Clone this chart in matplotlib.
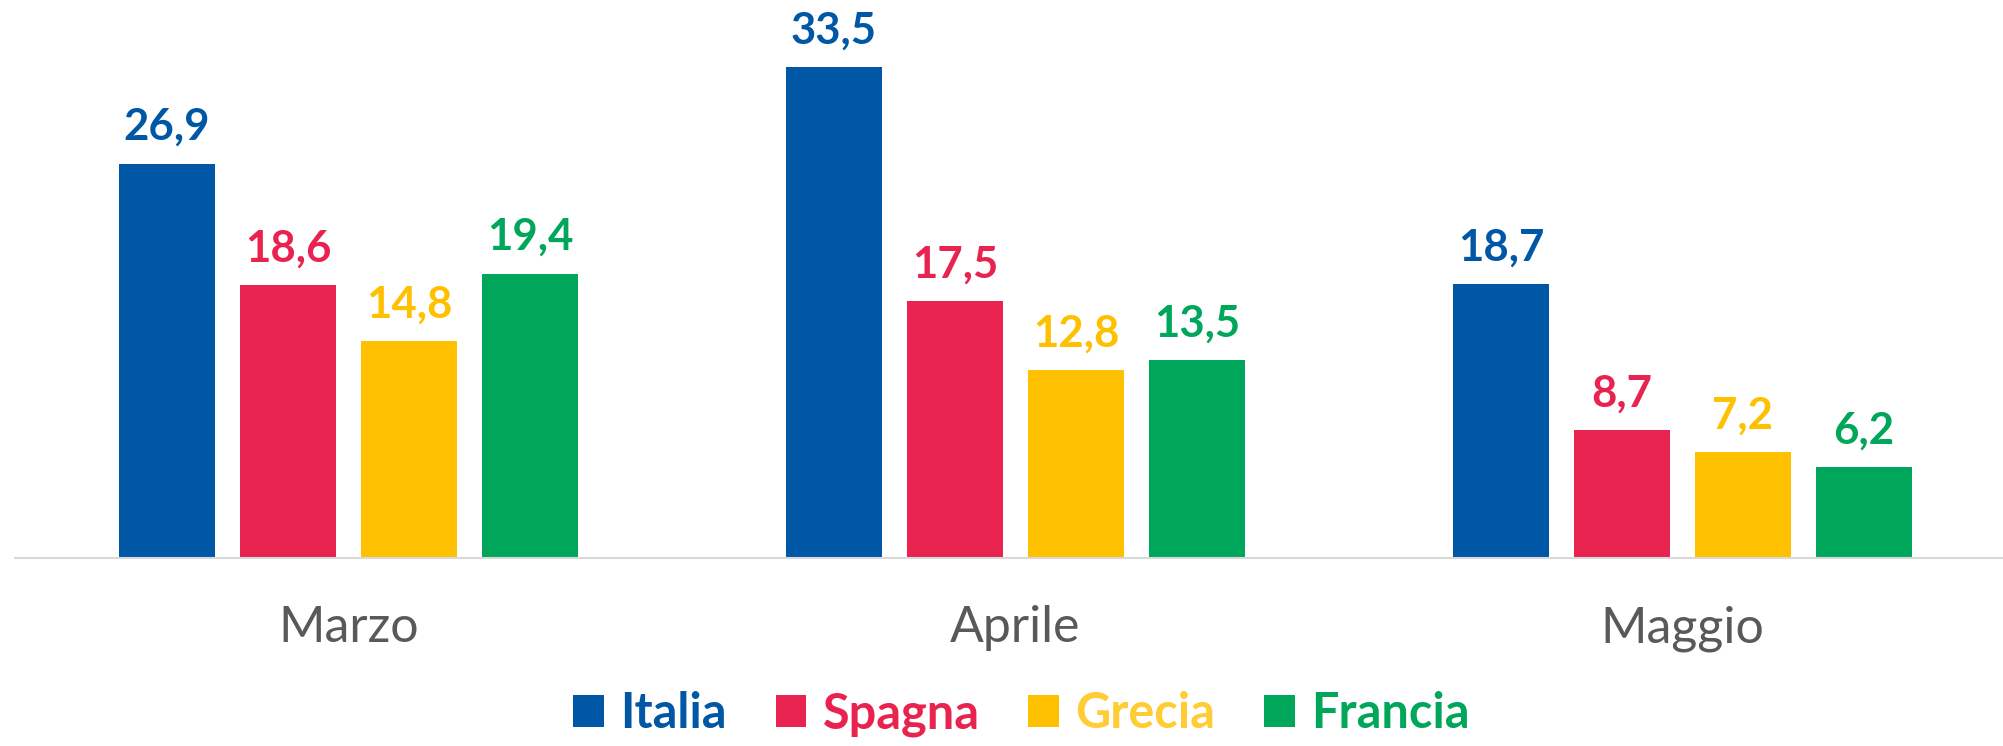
import numpy as np
import matplotlib
matplotlib.use('Agg')
import matplotlib.pyplot as plt
from matplotlib.patches import Patch

months = ["Marzo", "Aprile", "Maggio"]
countries = ["Italia", "Spagna", "Grecia", "Francia"]
italia = [26.9, 33.5, 18.7]
spagna = [18.6, 17.5, 8.7]
grecia = [14.8, 12.8, 7.2]
francia = [19.4, 13.5, 6.2]
colors = ["#0057A6", "#E8234F", "#FFC000", "#00A65A"]
legend_text_colors = ["#0057A6", "#E8234F", "#FFCC33", "#00A65A"]

series = [italia, spagna, grecia, francia]

plt.rcParams['font.family'] = ['Lato', 'DejaVu Sans']

W, H = 2003, 746
fig = plt.figure(figsize=(W / 100, H / 100), dpi=100)
ax = fig.add_axes([15 / W, (H - 558) / H, 2001 / W, 558 / H])

x = np.arange(len(months))
step = 0.1814
width = 0.1425
for i, (vals, col) in enumerate(zip(series, colors)):
    pos = x + (i - 1.5) * step
    bars = ax.bar(pos, vals, width=width, color=col)
    for b, v in zip(bars, vals):
        ax.annotate(f"{v:.1f}".replace(".", ","),
                    (b.get_x() + b.get_width() / 2, v),
                    xytext=(0, 17), textcoords="offset points",
                    ha="center", va="baseline", fontsize=31.5,
                    fontweight="bold", color=col)

ax.set_xlim(-0.5, 2.5)
ax.set_ylim(0, 558 / 14.66)
for s in ["top", "left", "right"]:
    ax.spines[s].set_visible(False)
ax.spines["bottom"].set_color("#D9D9D9")
ax.spines["bottom"].set_linewidth(1.5)
ax.set_yticks([])
ax.set_xticks(x)
ax.set_xticklabels(months, fontsize=36, color="#595959")
ax.tick_params(axis="x", length=0, pad=34)

handles = [Patch(facecolor=c) for c in colors]
leg = fig.legend(handles, countries, loc="lower center", ncol=4,
                 bbox_to_anchor=(0.51, -0.014), frameon=False,
                 prop={"size": 35, "weight": "bold"},
                 handlelength=0.63, handleheight=0.63,
                 handletextpad=0.34, columnspacing=1.0, borderaxespad=0)
for t, c in zip(leg.get_texts(), legend_text_colors):
    t.set_color(c)

fig.savefig("out.png", dpi=100)
